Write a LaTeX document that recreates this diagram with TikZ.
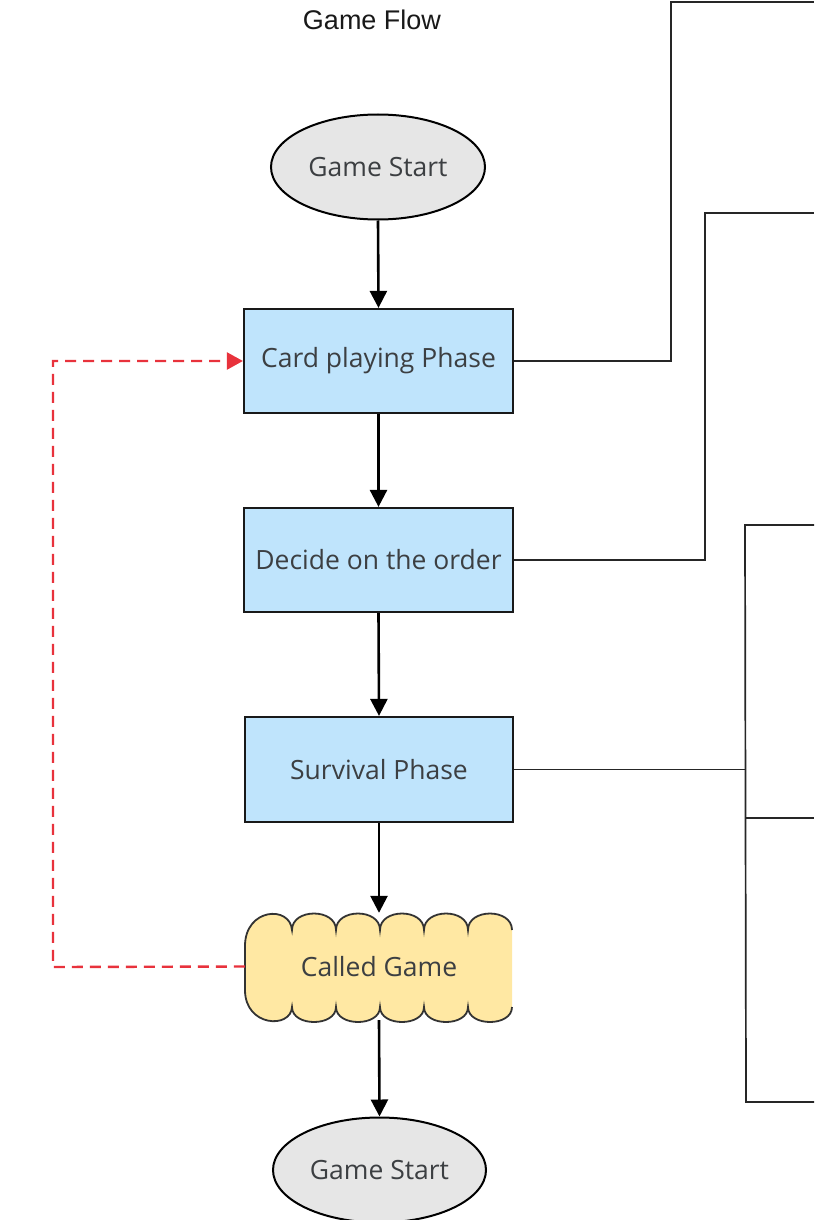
\documentclass[tikz,border=0pt]{standalone}
\usepackage{fontspec}
\setmainfont{Open Sans}
\newfontfamily\titlefont{Liberation Sans}
\usetikzlibrary{shapes.geometric,arrows.meta}
\definecolor{boxblue}{HTML}{BFE4FC}
\definecolor{startgray}{HTML}{E6E6E6}
\definecolor{cloudyellow}{HTML}{FFE8A3}
\definecolor{alertred}{HTML}{E8323C}
\definecolor{labelgray}{HTML}{3C3F42}
\definecolor{edgegray}{HTML}{333333}

% outline of the "Called Game" cloud, open on its right side
\def\cloudpath{(512,930)
  .. controls (512,908) and (468,908) .. (468,930)
  .. controls (468,908) and (424,908) .. (424,930)
  .. controls (424,908) and (380,908) .. (380,930)
  .. controls (380,908) and (336,908) .. (336,930)
  .. controls (336,908) and (292,908) .. (292,930)
  .. controls (290,905) and (245,908) .. (245,946)
  -- (245,990)
  .. controls (245,1027) and (291,1029) .. (292,1007)
  .. controls (292,1027) and (336,1027) .. (336,1007)
  .. controls (336,1027) and (380,1027) .. (380,1007)
  .. controls (380,1027) and (424,1027) .. (424,1007)
  .. controls (424,1027) and (468,1027) .. (468,1007)
  .. controls (468,1027) and (512,1027) .. (512,1007)}

\begin{document}
\begin{tikzpicture}[x=1pt,y=-1pt,
  label text/.style={font=\fontsize{26.5}{30}\selectfont, text=labelgray},
  startstop/.style={ellipse, draw=black, line width=2pt, fill=startgray,
    minimum width=214pt, minimum height=105pt, inner sep=0pt, label text},
  phase/.style={rectangle, draw=black!90, line width=2.2pt, fill=boxblue,
    minimum width=269pt, minimum height=104pt, inner sep=0pt, label text},
  flow/.style={line width=2.6pt, -{Triangle[length=17pt,width=17pt]}},
  feedback/.style={draw=alertred, line width=2.4pt, dash pattern=on 11pt off 7pt,
    -{Triangle[length=16pt,width=17pt]}},
  branch/.style={line width=1.7pt, draw=black!85}]

\useasboundingbox (0,0) rectangle (814,1220);
\clip (0,0) rectangle (814,1220);
\fill[white] (0,0) rectangle (814,1220);

% title
\node[font=\titlefont\fontsize{27}{30}\selectfont, text=black!90] (title) at (372,20) {Game Flow};

% main flow
\node[startstop] (start) at (378,167) {Game Start};
\node[phase] (play) at (378.5,361) {Card playing Phase};
\node[phase] (order) at (378.5,560) {Decide on the order};
\node[phase, minimum width=268pt, minimum height=105pt] (survive) at (379,769.5) {Survival Phase};

\fill[cloudyellow] \cloudpath -- cycle;
\draw[edgegray, line width=1.8pt] \cloudpath;
\node[minimum width=268pt, minimum height=107pt, inner sep=0pt, label text] (called) at (379,966.5) {Called Game};

\node[startstop, minimum width=213pt] (finish) at (379.5,1170) {Game Start};

\draw[flow] (start.south) -- (play.north);
\draw[flow] (play.south) -- (order.north);
\draw[flow] (order.south) -- (survive.north);
\draw[flow] (survive.south) -- (called.north);
\draw[flow] (called.south) -- (finish.north);

% loop back from the called game to the card playing phase
\coordinate (back) at (53,967);
\draw[feedback] (called.west) -- (back) |- (play.west);

% branches leaving to the right
\coordinate (j1) at (671,2);
\coordinate (e1) at (814,2);
\draw[branch] (play.east) -| (j1) -- (e1);

\coordinate (j2) at (705,213);
\coordinate (e2) at (814,213);
\draw[branch] (order.east) -| (j2) -- (e2);

\coordinate (bt) at (745,525);
\coordinate (bb) at (746,1102);
\coordinate (bm) at (746,818);
\draw[branch] (814,525) -- (bt) -- (bb) -- (814,1102);
\draw[branch] (bm) -- (814,818);
\draw[branch] (survive.east) -- (survive.east -| bt);
\end{tikzpicture}
\end{document}
